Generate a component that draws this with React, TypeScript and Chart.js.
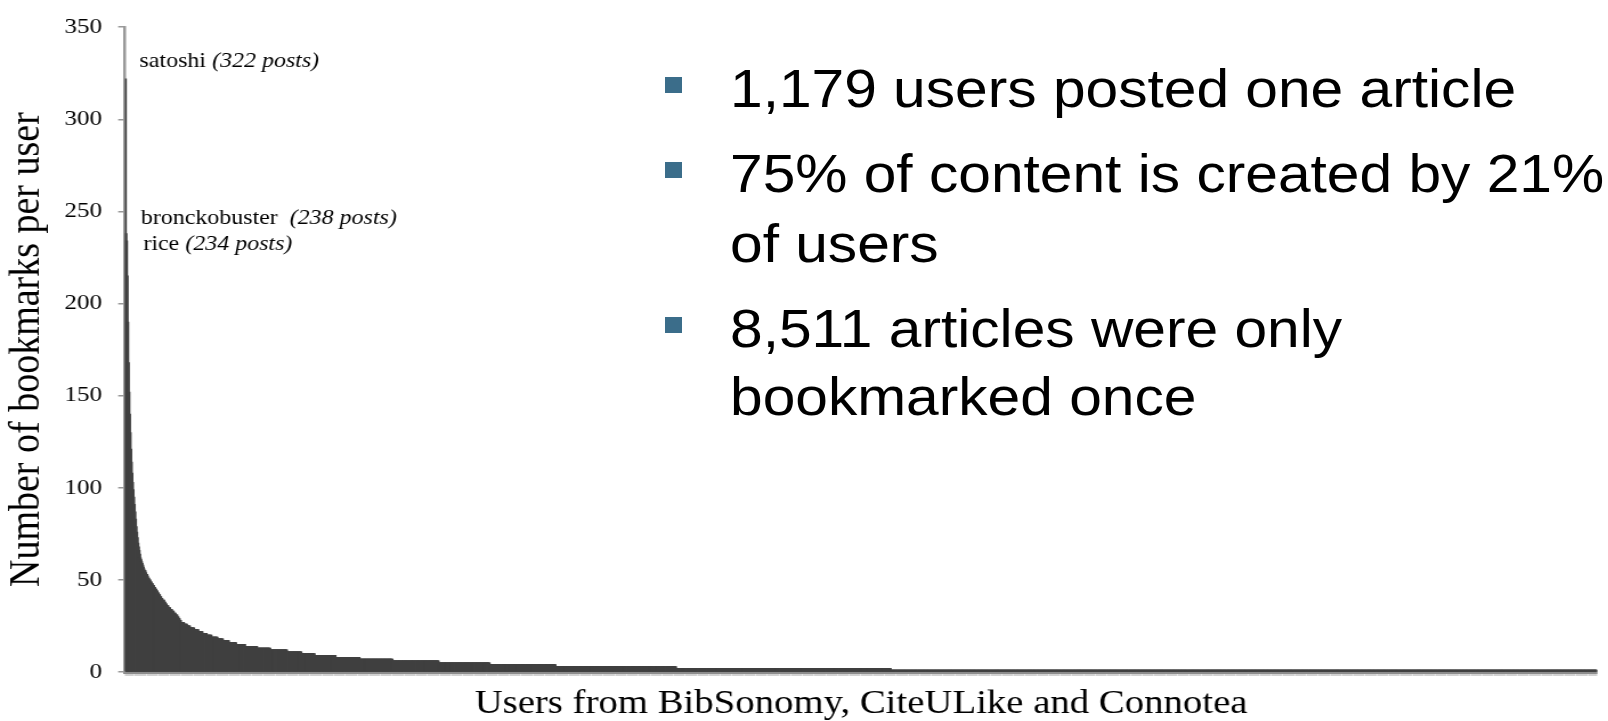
import React, { useEffect, useRef } from "react";
import { Chart, registerables } from "chart.js";

Chart.register(...registerables);

// ---- data (users sorted by number of bookmarks) ----
// run-length encoded: runValues[i] bookmarks, held by runCounts[i] users
const runValues = [
  322, 238, 234, 215, 190, 168, 152, 140, 130, 121, 114, 108, 103, 99, 95, 91, 87, 83, 79, 76,
  73, 70, 68, 66, 64, 62, 61, 60, 59, 58,
  57, 56, 55, 54, 53, 52, 51, 50, 49, 48,
  47, 46, 45, 44, 43, 42, 41, 40, 39, 38, 37,
  36, 35, 34, 33, 32, 31, 30, 29, 28,
  27, 26, 25, 24, 23, 22, 21, 20, 19, 18, 17, 16, 15, 14, 13, 12, 11, 10, 9, 8, 7, 6, 5, 4, 3, 2, 1,
];
const runCounts = [
  1, 1, 1, 1, 1, 1, 1, 1, 1, 1, 1, 1, 1, 1, 1, 1, 1, 1, 1, 1,
  1, 1, 1, 1, 1, 1, 1, 1, 1, 1,
  1, 1, 2, 1, 2, 1, 2, 2, 2, 2,
  2, 2, 2, 2, 2, 2, 2, 2, 3, 2, 2,
  3, 3, 3, 3, 3, 3, 2, 2, 2,
  5, 5, 5, 7, 7, 7, 7, 8, 10, 9, 10, 12, 15, 20, 22, 28, 24, 22, 35, 40, 55, 77, 85, 110, 201, 358, 1179,
];

const yTicks = [0, 50, 100, 150, 200, 250, 300, 350];
const xTitle = "Users from BibSonomy, CiteULike and Connotea";
const yTitle = "Number of bookmarks per user";

const noteNames = ["satoshi", "bronckobuster", "rice"];
const notePosts = [322, 238, 234];
const noteGaps = [" ", "  ", " "];

const bulletLines = [
  ["1,179 users posted one article"],
  ["75% of content is created by 21%", "of users"],
  ["8,511 articles were only", "bookmarked once"],
];

// ---- layout / style constants ----
const STRETCH = 1608 / 1410;
const INNER_W = 1410;
const H = 721;
const noteDx = [12.7, 13.8, 16.1];
const noteDy = [-12, -10, 9];
const bulletBaselines = [[106.7], [191.7, 261.7], [346.7, 415]];

const notesPlugin = {
  id: "userNotes",
  afterDatasetsDraw(chart: any) {
    const { ctx, chartArea, scales } = chart;
    ctx.save();
    ctx.fillStyle = "#000";
    ctx.textBaseline = "alphabetic";
    ctx.textAlign = "left";
    noteNames.forEach((name, i) => {
      const x0 = chartArea.left + noteDx[i];
      const y0 = scales.y.getPixelForValue(notePosts[i]) + noteDy[i];
      ctx.font = '21px "Liberation Serif"';
      const first = name + noteGaps[i];
      ctx.fillText(first, x0, y0);
      const w = ctx.measureText(first).width;
      ctx.font = 'italic 21px "Liberation Serif"';
      ctx.fillText(`(${notePosts[i]} posts)`, x0 + w, y0);
    });
    ctx.restore();
  },
};

export default function App() {
  const canvasRef = useRef<HTMLCanvasElement | null>(null);

  useEffect(() => {
    const values: number[] = [];
    runValues.forEach((v, i) => {
      for (let k = 0; k < runCounts[i]; k++) values.push(v);
    });
    const labels = values.map((_, i) => String(i + 1));

    const chart = new Chart(canvasRef.current as HTMLCanvasElement, {
      type: "bar",
      data: {
        labels,
        datasets: [
          {
            data: values,
            backgroundColor: "#404040",
            borderWidth: 0,
            barThickness: 2,
          },
        ],
      },
      plugins: [notesPlugin],
      options: {
        animation: false,
        responsive: false,
        devicePixelRatio: 1,
        events: [],
        layout: { padding: { top: 20, right: 9.6, bottom: 0, left: 0 } },
        plugins: {
          legend: { display: false },
          tooltip: { enabled: false },
        },
        scales: {
          x: {
            type: "category",
            offset: true,
            ticks: { display: false },
            grid: {
              display: true,
              drawOnChartArea: false,
              drawTicks: true,
              tickLength: 4,
              color: "rgba(140,140,140,0.45)",
              lineWidth: 0.5,
            },
            border: { display: true, color: "#8c8c8c", width: 3 },
            title: {
              display: true,
              text: xTitle,
              color: "#000",
              font: { family: "Liberation Serif", size: 34, lineHeight: 1 },
              padding: { top: 0, bottom: 0 },
            },
            afterFit: (s: any) => {
              s.height = 49;
            },
          },
          y: {
            min: 0,
            max: 350,
            afterBuildTicks: (s: any) => {
              s.ticks = yTicks.map((v) => ({ value: v }));
            },
            ticks: {
              stepSize: 50,
              color: "#000",
              padding: 14,
              font: { family: "Liberation Serif", size: 22 },
            },
            grid: {
              drawOnChartArea: false,
              drawTicks: true,
              tickLength: 6,
              color: "#999",
              lineWidth: 1.5,
            },
            border: { display: true, color: "#999", width: 2.5 },
            title: {
              display: true,
              text: yTitle,
              color: "#000",
              font: { family: "Liberation Serif", size: 38, lineHeight: 1 },
              padding: { top: 5, bottom: 0 },
            },
            afterFit: (s: any) => {
              s.width = 109.6;
            },
          },
        },
      } as any,
    });
    return () => chart.destroy();
  }, []);

  return (
    <div
      style={{
        position: "fixed",
        left: 0,
        top: 0,
        width: 1608,
        height: H,
        overflow: "hidden",
        background: "#fff",
      }}
    >
      <div
        style={{
          position: "absolute",
          left: 0,
          top: 0,
          width: INNER_W,
          height: H,
          transform: `scaleX(${STRETCH})`,
          transformOrigin: "0 0",
        }}
      >
        <canvas
          ref={canvasRef}
          width={INNER_W}
          height={H}
          style={{ width: INNER_W, height: H, display: "block" }}
        />
      </div>
      {bulletLines.map((lines, bi) => (
        <React.Fragment key={bi}>
          <div
            style={{
              position: "absolute",
              left: 665,
              top: bulletBaselines[bi][0] - 30,
              width: 17,
              height: 16.7,
              background: "#3b6d8a",
            }}
          />
          {lines.map((t, li) => (
            <div
              key={li}
              style={{
                position: "absolute",
                left: 730,
                top: bulletBaselines[bi][li] - 44.9,
                fontFamily: '"Liberation Sans", Arial, sans-serif',
                fontSize: 53,
                lineHeight: "53px",
                whiteSpace: "nowrap",
                color: "#000",
                transform: "scaleX(1.107)",
                transformOrigin: "0 0",
              }}
            >
              {t}
            </div>
          ))}
        </React.Fragment>
      ))}
    </div>
  );
}
